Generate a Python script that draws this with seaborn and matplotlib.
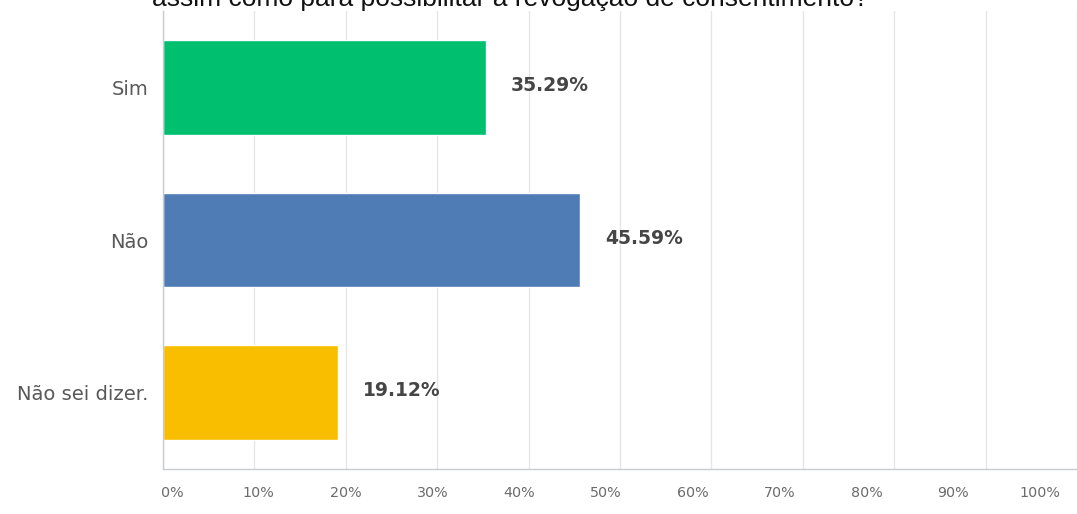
import matplotlib
matplotlib.use("Agg")
import matplotlib.pyplot as plt
import matplotlib.transforms as mtransforms
import seaborn as sns
import pandas as pd

# Survey answers and their shares (%)
categories = ["Sim", "Não", "Não sei dizer."]
shares = [35.29, 45.59, 19.12]
colors = ["#00BF6F", "#507CB6", "#F9BE00"]
tick_values = [0, 10, 20, 30, 40, 50, 60, 70, 80, 90, 100]
tick_labels = [f"{v}%" for v in tick_values]
question_tail = "assim como para possibilitar a revogação de consentimento?"

df = pd.DataFrame({"resposta": categories, "percentual": shares})

sns.set_theme(style="white")
plt.rcParams["font.family"] = ["DejaVu Sans"]

W, H, DPI = 1077, 514, 100
fig = plt.figure(figsize=(W / DPI, H / DPI), dpi=DPI)
ax = fig.add_axes([163 / W, 45 / H, (1077 - 163) / W, (469 - 11) / H])

sns.barplot(data=df, x="percentual", y="resposta", hue="resposta",
            palette=colors, order=categories, hue_order=categories,
            width=0.62, dodge=False, legend=False, saturation=1, ax=ax)

ax.set_xlim(0, 100)
ax.set_xticks(tick_values)
ax.set_xticklabels(tick_labels)
ax.set_xlabel("")
ax.set_ylabel("")

# light vertical grid
ax.grid(axis="x", color="#e6e6e6", linewidth=1)
ax.set_axisbelow(True)
for side in ["top", "right"]:
    ax.spines[side].set_visible(False)
for side in ["left", "bottom"]:
    ax.spines[side].set_color("#c8ccd0")
    ax.spines[side].set_linewidth(1)

ax.tick_params(axis="x", length=0, pad=12, labelsize=10.3, labelcolor="#6b6b6b")
ax.tick_params(axis="y", length=0, pad=10.5, labelsize=14, labelcolor="#595959")

# tick labels are spread slightly tighter than the grid
for i, lbl in enumerate(ax.get_xticklabels()):
    dx = (9 - 4.6 * i) / DPI
    lbl.set_transform(lbl.get_transform() +
                      mtransforms.ScaledTranslation(dx, 0, fig.dpi_scale_trans))

# value labels next to each bar
for patch, val in zip(ax.patches, shares):
    y = patch.get_y() + patch.get_height() / 2
    ax.annotate(f"{val:.2f}%", xy=(val, y), xytext=(25, 2),
                textcoords="offset pixels",
                ha="left", va="center", fontsize=13.5, fontweight="bold",
                color="#454545")

# tail of the question, clipped at the top edge
fig.text(152 / W, 1 - 6 / H, question_tail, ha="left", va="baseline",
         fontsize=19, color="#111111", family=["Liberation Sans", "DejaVu Sans"])

fig.savefig("out.png", dpi=DPI, facecolor="white")
